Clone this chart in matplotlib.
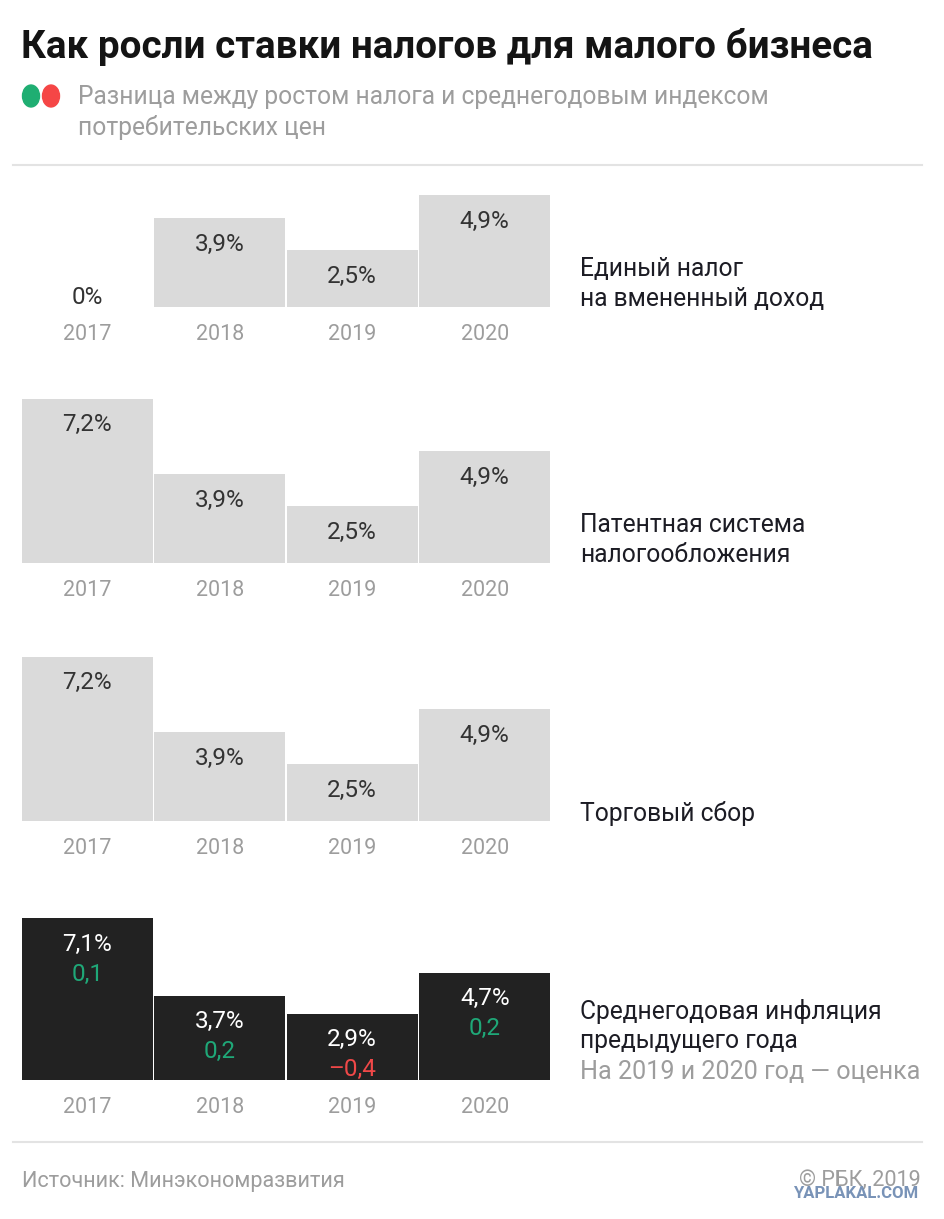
import matplotlib
matplotlib.use("Agg")
import matplotlib.pyplot as plt
from matplotlib.patches import Circle
from matplotlib.lines import Line2D

plt.rcParams['font.family'] = ['Roboto', 'DejaVu Sans']

# data
years = ['2017', '2018', '2019', '2020']
envd = [0, 3.9, 2.5, 4.9]
patent = [7.2, 3.9, 2.5, 4.9]
trade = [7.2, 3.9, 2.5, 4.9]
inflation = [7.1, 3.7, 2.9, 4.7]
diff = [0.1, 0.2, -0.4, 0.2]

panel_labels = [
    ['Единый налог', 'на вмененный доход'],
    ['Патентная система', 'налогообложения'],
    ['Торговый сбор'],
    ['Среднегодовая инфляция', 'предыдущего года'],
]

LIGHT = '#dadada'
DARK = '#222222'
GREEN = '#1fa878'
RED = '#f04848'
GRAY = '#9d9d9d'
INK = '#1c1c24'

W, H = 945, 1219
fig = plt.figure(figsize=(W / 100, H / 100), dpi=100)
fig.patch.set_facecolor('white')


def fx(x):
    return x / W


def fy(y):
    return 1 - y / H


def fmt(v):
    if v == 0:
        return '0%'
    return ('%.1f' % v).replace('.', ',') + '%'


def fmt_diff(v):
    s = ('%.1f' % abs(v)).replace('.', ',')
    return ('–' + s) if v < 0 else s


# header
fig.text(fx(21), fy(47), 'Как росли ставки налогов для малого бизнеса',
         fontsize=27.8, fontweight='bold', color='#141414', va='center', ha='left')
fig.patches.append(Circle((fx(31), fy(96)), 8.5 / W, transform=fig.transFigure,
                          color='#1fae72', zorder=3))
fig.patches.append(Circle((fx(51), fy(96)), 8.5 / W, transform=fig.transFigure,
                          color='#f54646', zorder=4))
fig.text(fx(78), fy(97), 'Разница между ростом налога и среднегодовым индексом',
         fontsize=17.7, color=GRAY, va='center')
fig.text(fx(78), fy(127), 'потребительских цен', fontsize=17.7, color=GRAY, va='center')
fig.lines.append(Line2D([fx(13), fx(922)], [fy(165), fy(165)], transform=fig.transFigure,
                        color='#e3e3e3', lw=1.5))

# panels
baselines = [307, 563, 821, 1080]
series = [envd, patent, trade, inflation]
px_per_unit = 22.8
ymax = 8

for i, (vals, base) in enumerate(zip(series, baselines)):
    h = ymax * px_per_unit
    ax = fig.add_axes([fx(21), fy(base), 530 / W, h / H])
    ax.set_xlim(-0.5, 3.5)
    ax.set_ylim(0, ymax)
    ax.patch.set_visible(False)
    for s in ax.spines.values():
        s.set_visible(False)
    ax.set_yticks([])
    ax.set_xticks(range(len(years)))
    ax.set_xticklabels(years, fontsize=15.5, color=GRAY)
    ax.tick_params(axis='x', length=0, pad=12)

    dark = i == 3
    ax.bar(range(len(vals)), vals, width=0.985, color=DARK if dark else LIGHT)

    for j, v in enumerate(vals):
        if v == 0:
            ax.annotate(fmt(v), (j, 0), xytext=(0, 9), textcoords='offset pixels',
                        ha='center', va='center', fontsize=17.5, color='#333333')
            continue
        ax.annotate(fmt(v), (j, v), xytext=(0, -26), textcoords='offset pixels',
                    ha='center', va='center', fontsize=17.5,
                    color='white' if dark else '#333333')
        if dark:
            d = diff[j]
            ax.annotate(fmt_diff(d), (j, v), xytext=(0, -56), textcoords='offset pixels',
                        ha='center', va='center', fontsize=17.5,
                        color=GREEN if d >= 0 else RED)

    lines = panel_labels[i]
    last = base - 8
    if dark:
        fig.text(fx(580), fy(last), 'На 2019 и 2020 год — оценка', fontsize=18.1,
                 color=GRAY, va='center')
        last -= 31
    for k, line in enumerate(reversed(lines)):
        fig.text(fx(580), fy(last - 30 * k), line, fontsize=17.7, color=INK, va='center')

# footer
fig.lines.append(Line2D([fx(13), fx(922)], [fy(1142), fy(1142)], transform=fig.transFigure,
                        color='#e3e3e3', lw=1.5))
fig.text(fx(22), fy(1181), 'Источник: Минэкономразвития', fontsize=15.6, color=GRAY, va='center')
fig.text(fx(921), fy(1181), '© РБК, 2019', fontsize=15.6, color=GRAY, va='center', ha='right')
fig.text(fx(918), fy(1194), 'YAPLAKAL.COM', fontsize=12, fontweight='bold', color='#6a87b0',
         va='center', ha='right', alpha=0.9)

fig.savefig('out.png', dpi=100, facecolor='white')
